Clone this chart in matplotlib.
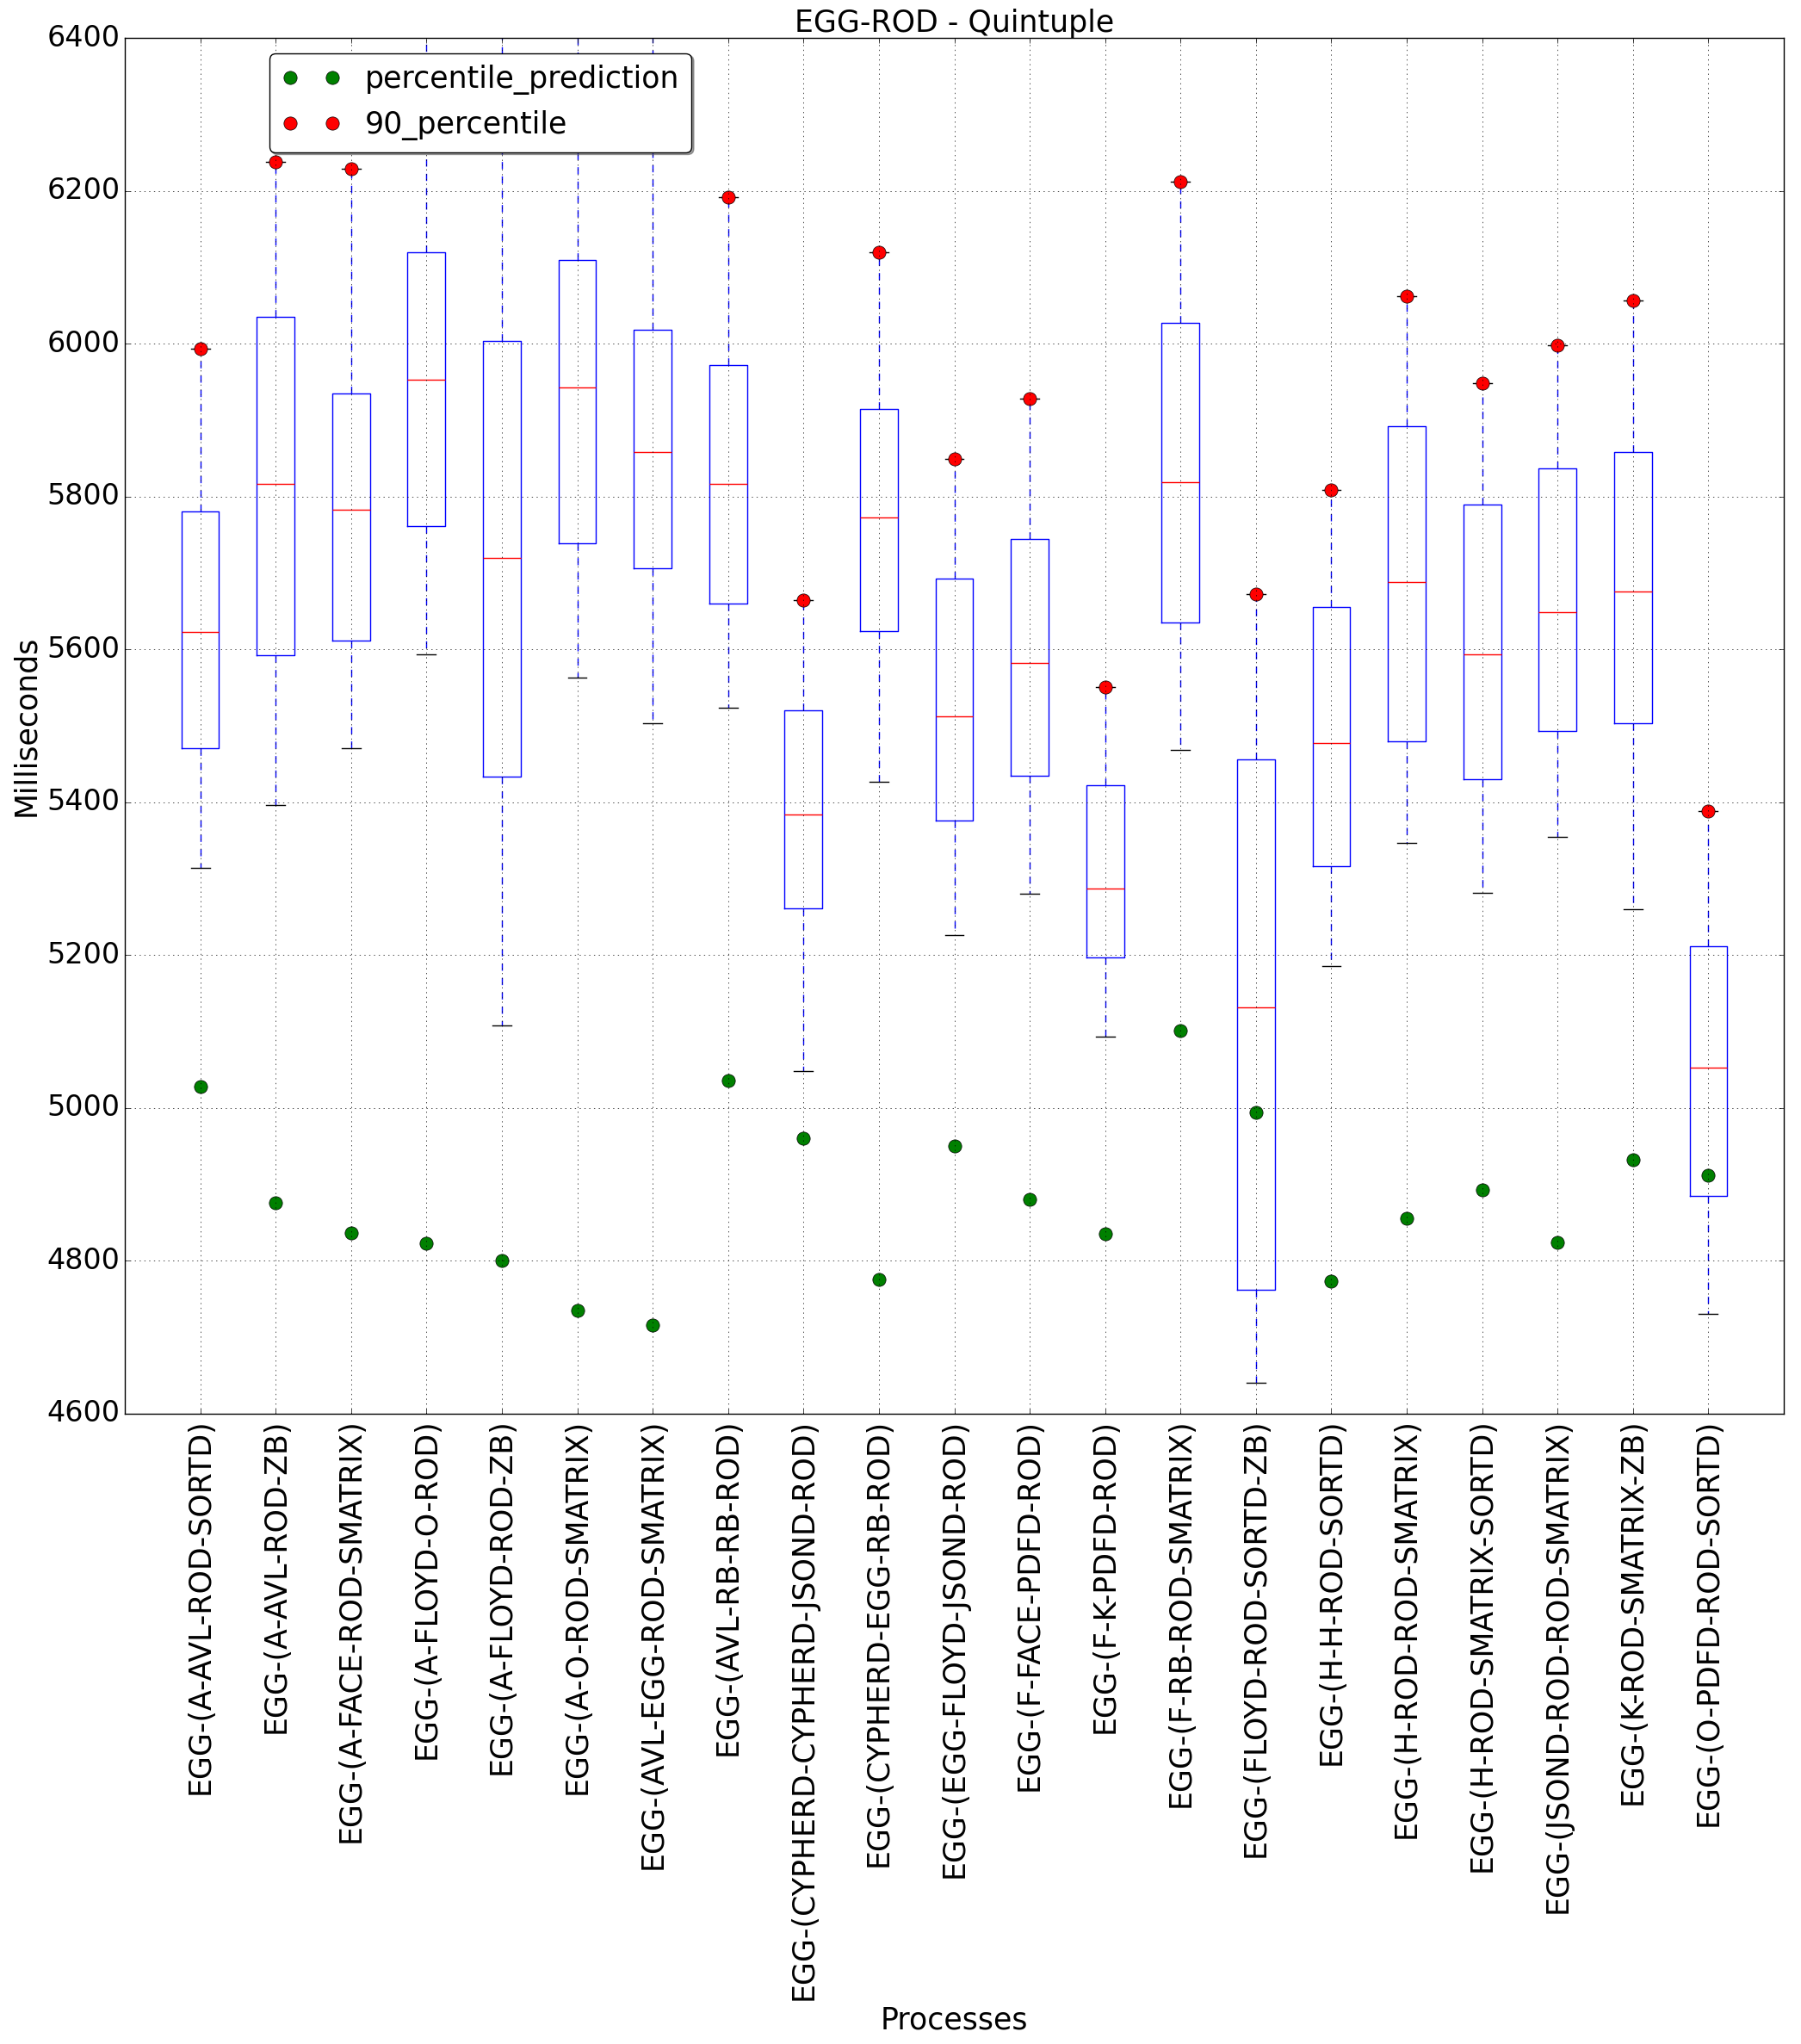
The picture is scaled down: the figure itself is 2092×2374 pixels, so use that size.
import matplotlib
matplotlib.use('Agg')
import matplotlib.pyplot as plt

plt.style.use('classic')

processes = [
    "EGG-(A-AVL-ROD-SORTD)", "EGG-(A-AVL-ROD-ZB)", "EGG-(A-FACE-ROD-SMATRIX)",
    "EGG-(A-FLOYD-O-ROD)", "EGG-(A-FLOYD-ROD-ZB)", "EGG-(A-O-ROD-SMATRIX)",
    "EGG-(AVL-EGG-ROD-SMATRIX)", "EGG-(AVL-RB-RB-ROD)", "EGG-(CYPHERD-CYPHERD-JSOND-ROD)",
    "EGG-(CYPHERD-EGG-RB-ROD)", "EGG-(EGG-FLOYD-JSOND-ROD)", "EGG-(F-FACE-PDFD-ROD)",
    "EGG-(F-K-PDFD-ROD)", "EGG-(F-RB-ROD-SMATRIX)", "EGG-(FLOYD-ROD-SORTD-ZB)",
    "EGG-(H-H-ROD-SORTD)", "EGG-(H-ROD-ROD-SMATRIX)", "EGG-(H-ROD-SMATRIX-SORTD)",
    "EGG-(JSOND-ROD-ROD-SMATRIX)", "EGG-(K-ROD-SMATRIX-ZB)", "EGG-(O-PDFD-ROD-SORTD)",
]

whisker_low = [5314, 5396, 5471, 5594, 5108, 5563, 5503, 5524, 5048, 5427, 5226,
               5280, 5093, 5469, 4641, 5186, 5347, 5282, 5355, 5260, 4731]
q1 = [5471, 5592, 5611, 5761, 5434, 5739, 5706, 5660, 5261, 5624, 5376,
      5435, 5197, 5635, 4762, 5316, 5480, 5430, 5493, 5503, 4885]
median = [5623, 5817, 5783, 5953, 5720, 5943, 5858, 5817, 5384, 5773, 5512,
          5582, 5287, 5819, 5132, 5478, 5688, 5594, 5649, 5676, 5053]
q3 = [5781, 6035, 5935, 6119, 6003, 6109, 6018, 5972, 5520, 5914, 5693,
      5744, 5422, 6027, 5456, 5655, 5892, 5790, 5837, 5858, 5212]
percentile_90 = [5993, 6238, 6229, 6480, 6440, 6500, 6460, 6192, 5665, 6120, 5849,
                 5928, 5551, 6212, 5672, 5809, 6062, 5948, 5998, 6056, 5389]
percentile_prediction = [5028, 4876, 4837, 4823, 4800, 4735, 4716, 5036, 4961, 4776, 4950,
                         4880, 4835, 5101, 4994, 4774, 4856, 4893, 4824, 4932, 4912]

fig = plt.figure(figsize=(20.92, 23.74), dpi=100, facecolor='white')
ax = fig.add_axes([145 / 2092, 1 - 1642 / 2374, 1927 / 2092, 1598 / 2374])

positions = list(range(1, len(processes) + 1))
stats = []
for i in range(len(processes)):
    stats.append(dict(med=median[i], q1=q1[i], q3=q3[i],
                      whislo=whisker_low[i], whishi=percentile_90[i], fliers=[]))

ax.bxp(stats, positions=positions, widths=0.5, showfliers=False,
       boxprops=dict(color='b'), whiskerprops=dict(color='b', linestyle='--'),
       capprops=dict(color='k'), medianprops=dict(color='r'))

ax.plot(positions, percentile_prediction, 'o', color='g', markersize=11,
        label='percentile_prediction')
ax.plot(positions, percentile_90, 'o', color='r', markersize=11,
        label='90_percentile')

ax.set_xlim(0, len(processes) + 1)
ax.set_ylim(4600, 6400)
ax.set_xticks(positions)
ax.set_xticklabels(processes, rotation=90, fontsize=25)
ax.tick_params(axis='y', labelsize=24)
ax.grid(True)

ax.set_title('EGG-ROD - Quintuple', fontsize=25)
ax.set_xlabel('Processes', fontsize=25)
ax.set_ylabel('Milliseconds', fontsize=25)

ax.legend(loc='upper left', bbox_to_anchor=(0.087, 0.989), borderaxespad=0,
          numpoints=2, fancybox=True, shadow=True, fontsize=25)

fig.savefig('out.png', dpi=100, facecolor='white')
